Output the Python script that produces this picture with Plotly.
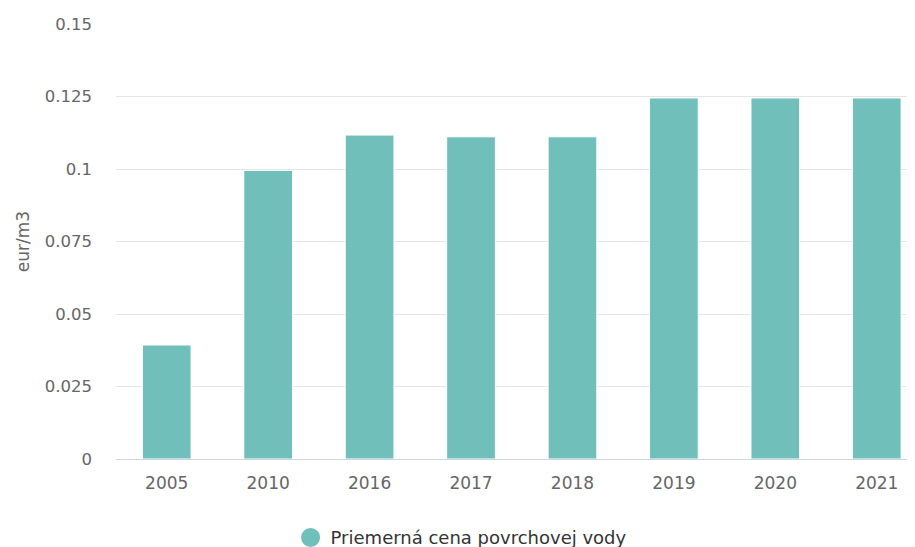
import plotly.graph_objects as go

years = ["2005", "2010", "2016", "2017", "2018", "2019", "2020", "2021"]
values = [0.0393, 0.0995, 0.1117, 0.1111, 0.1111, 0.1245, 0.1245, 0.1245]
series_name = "Priemerná cena povrchovej vody"
y_ticks = [0, 0.025, 0.05, 0.075, 0.1, 0.125, 0.15]
y_tick_labels = ["0", "0.025", "0.05", "0.075", "0.1", "0.125", "0.15"]

color = "#70bfba"

fig = go.Figure()
fig.add_trace(go.Bar(
    x=years, y=values, name=series_name,
    marker=dict(color=color, line=dict(color="#ffffff", width=1)),
    width=0.48, showlegend=False,
))
fig.add_trace(go.Scatter(
    x=[None], y=[None], mode="markers", name=series_name,
    marker=dict(color=color, size=16, symbol="circle",
                line=dict(color=color, width=3)),
    showlegend=True,
))

fig.update_layout(
    width=907, height=539,
    margin=dict(l=107.5, r=0, t=16, b=88, autoexpand=False),
    paper_bgcolor="#ffffff", plot_bgcolor="#ffffff",
    font=dict(family="DejaVu Sans", color="#666666", size=16),
    legend=dict(
        orientation="h", x=0.2185, xanchor="left", y=-0.181, yanchor="middle",
        font=dict(size=18, color="#333333"), itemsizing="trace",
    ),
    xaxis=dict(
        type="category", range=[-0.5, 7.377], automargin=False,
        showgrid=False, showline=True, linecolor="#ccd6eb",
        linewidth=1, ticks="", tickfont=dict(size=17, color="#666666"),
        ticklabelstandoff=9,
    ),
    yaxis=dict(
        range=[0, 0.15], tickvals=y_ticks, ticktext=y_tick_labels,
        automargin=False,
        showgrid=True, gridcolor="#e6e6e6", gridwidth=1, zeroline=False,
        ticks="", tickfont=dict(size=16.5, color="#666666"),
        title=dict(text="eur/m3", font=dict(size=17, color="#666666"), standoff=10),
        ticklabelstandoff=23,
    ),
)

fig.write_html("out.html")
